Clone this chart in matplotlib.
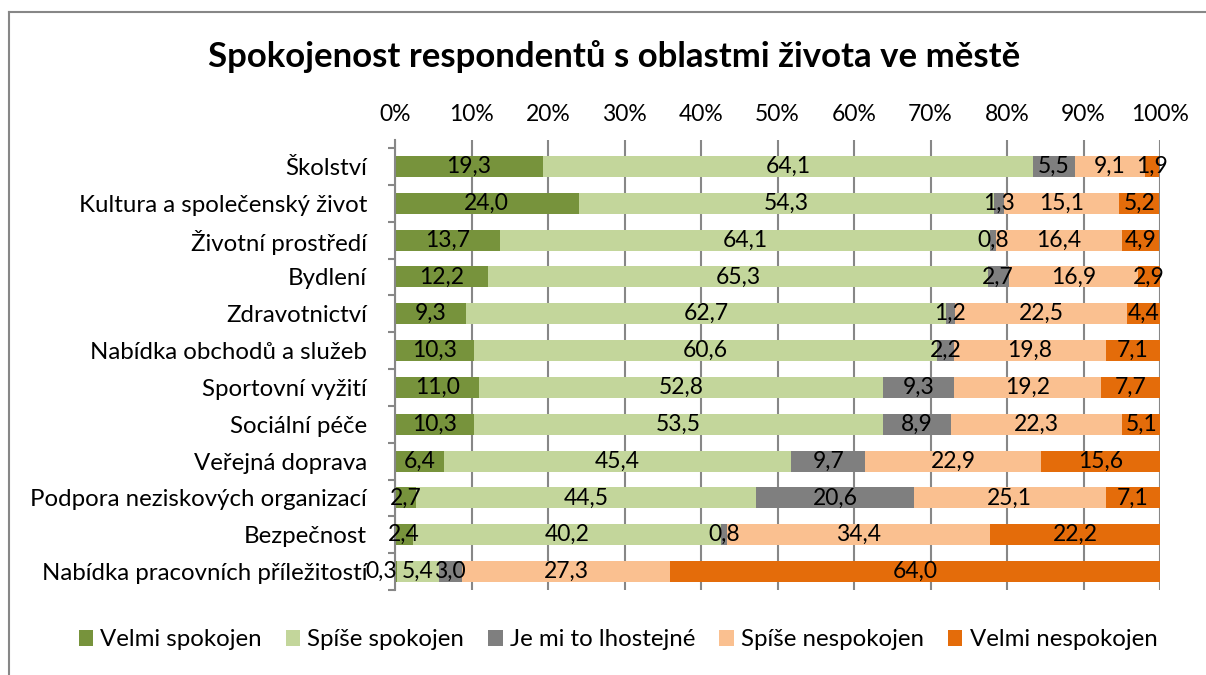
import matplotlib
matplotlib.use("Agg")
import matplotlib.pyplot as plt
from matplotlib.lines import Line2D
from matplotlib.patches import Patch

plt.rcParams["font.family"] = ["Lato", "DejaVu Sans"]

# data (percent of respondents)
categories = [
    "Školství",
    "Kultura a společenský život",
    "Životní prostředí",
    "Bydlení",
    "Zdravotnictví",
    "Nabídka obchodů a služeb",
    "Sportovní vyžití",
    "Sociální péče",
    "Veřejná doprava",
    "Podpora neziskových organizací",
    "Bezpečnost",
    "Nabídka pracovních příležitostí",
]
velmi_spokojen = [19.3, 24.0, 13.7, 12.2, 9.3, 10.3, 11.0, 10.3, 6.4, 2.7, 2.4, 0.3]
spise_spokojen = [64.1, 54.3, 64.1, 65.3, 62.7, 60.6, 52.8, 53.5, 45.4, 44.5, 40.2, 5.4]
lhostejne = [5.5, 1.3, 0.8, 2.7, 1.2, 2.2, 9.3, 8.9, 9.7, 20.6, 0.8, 3.0]
spise_nespokojen = [9.1, 15.1, 16.4, 16.9, 22.5, 19.8, 19.2, 22.3, 22.9, 25.1, 34.4, 27.3]
velmi_nespokojen = [1.9, 5.2, 4.9, 2.9, 4.4, 7.1, 7.7, 5.1, 15.6, 7.1, 22.2, 64.0]

series_names = ["Velmi spokojen", "Spíše spokojen", "Je mi to lhostejné",
                "Spíše nespokojen", "Velmi nespokojen"]
series_values = [velmi_spokojen, spise_spokojen, lhostejne,
                 spise_nespokojen, velmi_nespokojen]
colors = ["#77933C", "#C3D69B", "#7F7F7F", "#FAC090", "#E46C0A"]

fs = 16.5      # data labels, percent ticks
fs_cat = 17.3  # category labels, legend

fig = plt.figure(figsize=(12.06, 6.75), dpi=100)
ax = fig.add_axes([395 / 1206, 1 - 590 / 675, 765 / 1206, 450 / 675])

ypos = list(range(len(categories)))
left = [0.0] * len(categories)
for name, vals, col in zip(series_names, series_values, colors):
    ax.barh(ypos, vals, left=left, height=0.57, color=col, label=name, zorder=2)
    for i, v in enumerate(vals):
        txt = f"{v:.1f}".replace(".", ",")
        if left[i] == 0 and v < 1:
            ax.text(0.3, i, txt, ha="right", va="center", fontsize=fs, zorder=3)
        else:
            ax.text(left[i] + v / 2, i, txt, ha="center", va="center",
                    fontsize=fs, zorder=3)
    left = [l + v for l, v in zip(left, vals)]

ax.set_xlim(0, 100)
ax.set_ylim(11.5, -0.72)
ax.set_yticks(ypos)
ax.set_yticklabels(categories, fontsize=fs_cat)
ax.set_yticks([i - 0.5 for i in range(len(categories) + 1)], minor=True)
ax.tick_params(axis="y", which="major", length=0, pad=20)
ax.tick_params(axis="y", which="minor", length=5, width=1.5, color="#878787",
               direction="out")

ax.set_xticks(range(0, 101, 10))
ax.set_xticklabels([f"{t}%" for t in range(0, 101, 10)], fontsize=fs)
ax.xaxis.tick_top()
ax.tick_params(axis="x", length=0, pad=11)
ax.grid(axis="x", color="#878787", linewidth=1.5, zorder=0)
ax.set_axisbelow(True)

for s in ["top", "right", "bottom"]:
    ax.spines[s].set_visible(False)
ax.spines["left"].set_color("#878787")
ax.spines["left"].set_linewidth(1.5)

fig.text(614 / 1206, 1 - 57 / 675, "Spokojenost respondentů s oblastmi života ve městě",
         ha="center", va="center", fontsize=25, fontweight="bold")

handles = [Patch(facecolor=c, edgecolor="none") for c in colors]
fig.legend(handles, series_names, loc="center", bbox_to_anchor=(618 / 1206, 1 - 640 / 675),
           ncol=5, frameon=False, fontsize=fs_cat, handlelength=0.6, handleheight=0.6,
           handletextpad=0.3, columnspacing=1.0)

# chart frame (left and top edges visible)
fig.add_artist(Line2D([9 / 1206, 9 / 1206], [0, 1 - 12 / 675], transform=fig.transFigure,
                      color="#878787", linewidth=1.5))
fig.add_artist(Line2D([9 / 1206, 1], [1 - 12 / 675, 1 - 12 / 675], transform=fig.transFigure,
                      color="#878787", linewidth=1.5))

fig.savefig("out.png", dpi=100)
